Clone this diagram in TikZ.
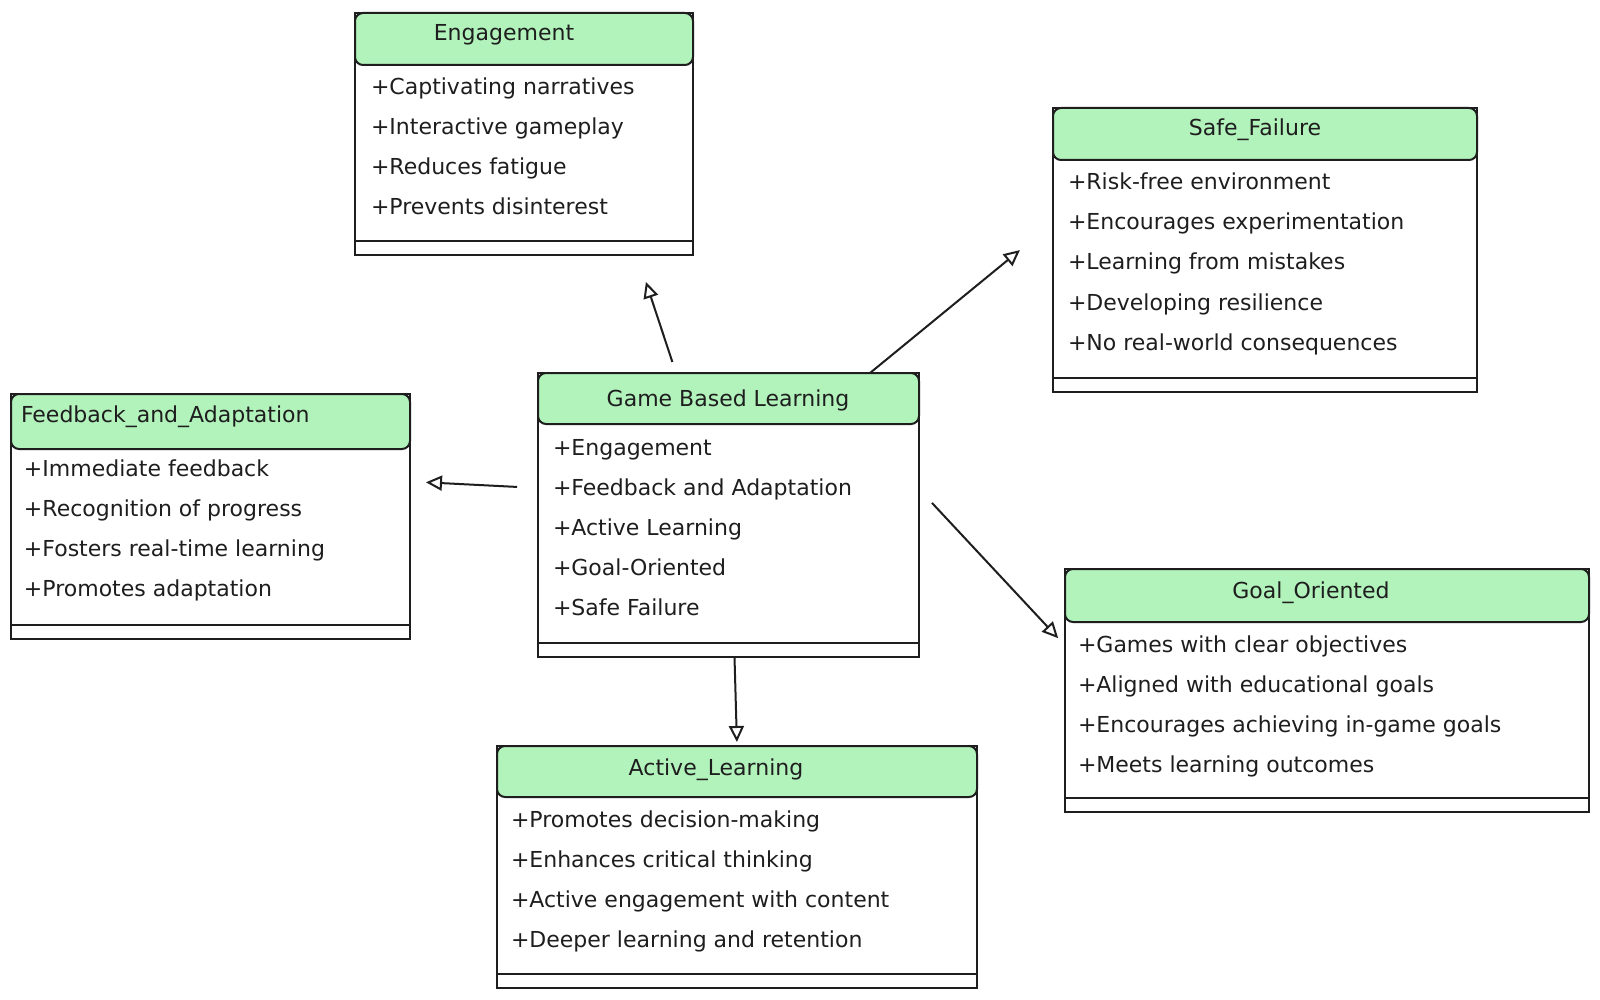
\documentclass[tikz,border=0pt]{standalone}
\usepackage{fontspec}
\setmainfont{DejaVu Sans}
\usetikzlibrary{arrows.meta}
\definecolor{ink}{HTML}{1E1E1E}
\definecolor{headgreen}{HTML}{B2F2BB}

\begin{document}
\begin{tikzpicture}[x=0.5pt, y=-0.5pt, font=\fontsize{11}{13}\selectfont, line width=1pt]
		\path[use as bounding box, fill=white] (0,0) rectangle (1600,1000);
		% class bodies
		\begin{scope}[every node/.style={draw=ink, fill=white, outer sep=0pt, inner sep=0pt}]
			\node[minimum width=169pt, minimum height=121pt] (Eng) at (524,134) {};
			\node[minimum width=212pt, minimum height=142pt] (Safe) at (1265,250) {};
			\node[minimum width=199.5pt, minimum height=122.5pt] (Fb) at (210.5,516.5) {};
			\node[minimum width=190.5pt, minimum height=142pt] (Gbl) at (728.5,515) {};
			\node[minimum width=262pt, minimum height=121.5pt] (Goal) at (1327,690.5) {};
			\node[minimum width=240pt, minimum height=121pt] (Act) at (737,867) {};
		\end{scope}
		% green headers
		\begin{scope}[every node/.style={draw=ink, fill=headgreen, rounded corners=4pt, anchor=north, outer sep=0pt, inner sep=0pt}]
			\node[minimum width=169pt, minimum height=26pt] (EngHead) at (Eng.north) {};
			\node[minimum width=212pt, minimum height=26pt] (SafeHead) at (Safe.north) {};
			\node[minimum width=199.5pt, minimum height=27.5pt] (FbHead) at (Fb.north) {};
			\node[minimum width=190.5pt, minimum height=25.5pt] (GblHead) at (Gbl.north) {};
			\node[minimum width=262pt, minimum height=26.5pt] (GoalHead) at (Goal.north) {};
			\node[minimum width=240pt, minimum height=25.5pt] (ActHead) at (Act.north) {};
		\end{scope}
		% bottom compartments
		\foreach \c in {Eng,Safe,Fb,Gbl,Goal,Act}
			\draw[ink] ([yshift=7pt]\c.south west) -- ([yshift=7pt]\c.south east);
		% titles
		\begin{scope}[every node/.style={text=ink, inner sep=0pt, anchor=base}]
			\node (EngTitle) at (504,41) {Engagement};
			\node (SafeTitle) at (1255,136) {Safe\_Failure};
			\node[anchor=base west] (FbTitle) at (20,422) {Feedback\_and\_Adaptation};
			\node (GblTitle) at (728,406) {Game Based Learning};
			\node (GoalTitle) at (1311,598) {Goal\_Oriented};
			\node (ActTitle) at (716,775) {Active\_Learning};
		\end{scope}
		% members
		\begin{scope}[every node/.style={text=ink, anchor=base west, inner sep=0pt}]
			\foreach \t [count=\i] in {+Captivating narratives, +Interactive gameplay, +Reduces fatigue, +Prevents disinterest}
				\node (Eng-\i) at (370, 55+40*\i) {\t};
			\foreach \t [count=\i] in {+Risk-free environment, +Encourages experimentation, +Learning from mistakes, +Developing resilience, +No real-world consequences}
				\node (Safe-\i) at (1067, 150+40*\i) {\t};
			\foreach \t [count=\i] in {+Immediate feedback, +Recognition of progress, +Fosters real-time learning, +Promotes adaptation}
				\node (Fb-\i) at (23, 436+40*\i) {\t};
			\foreach \t [count=\i] in {+Engagement, +Feedback and Adaptation, +Active Learning, +Goal-Oriented, +Safe Failure}
				\node (Gbl-\i) at (552, 415+40*\i) {\t};
			\foreach \t [count=\i] in {+Games with clear objectives, +Aligned with educational goals, +Encourages achieving in-game goals, +Meets learning outcomes}
				\node (Goal-\i) at (1077, 612+40*\i) {\t};
			\foreach \t [count=\i] in {+Promotes decision-making, +Enhances critical thinking, +Active engagement with content, +Deeper learning and retention}
				\node (Act-\i) at (510, 787+40*\i) {\t};
		\end{scope}
		% arrows
		\begin{scope}[>={Triangle[open, length=8pt, width=7.5pt]}, every edge/.style={draw=ink, line width=1pt}]
			\path [->] ([xshift=-26.25pt]Gbl.north) edge[shorten <=5.8pt, shorten >=14.2pt] ([xshift=56.5pt]Eng.south);
			\path [->] ([xshift=70.75pt]Gbl.north) edge[shorten >=21.4pt] ([yshift=13.5pt]Safe.west);
			\path [->] ([yshift=13.5pt]Gbl.west) edge[shorten <=10.5pt, shorten >=8pt] ([yshift=17.5pt]Fb.east);
			\path [->] ([yshift=13pt]Gbl.east) edge[shorten <=9.5pt, shorten >=5pt] ([yshift=22.5pt]Goal.west);
			\path [->] ([xshift=3pt]Gbl.south) edge[shorten >=2pt] (Act.north);
		\end{scope}
	\end{tikzpicture}
\end{document}
